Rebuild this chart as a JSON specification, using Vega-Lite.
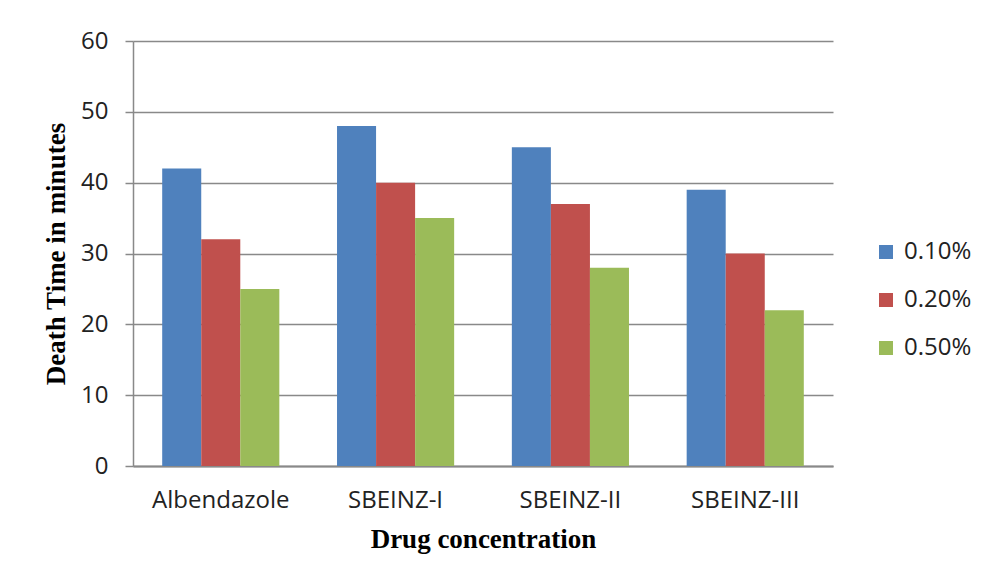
{
  "$schema": "https://vega.github.io/schema/vega-lite/v6.json",
  "autosize": {"type": "none"},
  "padding": {"left": 133, "top": 41, "right": 149, "bottom": 116},
  "width": 700,
  "height": 425,
  "background": "white",
  "config": {
    "view": {"stroke": null},
    "font": "Open Sans"
  },
  "data": {
    "values": [
      {"drug": "Albendazole", "conc": "0.10%", "time": 42},
      {"drug": "Albendazole", "conc": "0.20%", "time": 32},
      {"drug": "Albendazole", "conc": "0.50%", "time": 25},
      {"drug": "SBEINZ-I", "conc": "0.10%", "time": 48},
      {"drug": "SBEINZ-I", "conc": "0.20%", "time": 40},
      {"drug": "SBEINZ-I", "conc": "0.50%", "time": 35},
      {"drug": "SBEINZ-II", "conc": "0.10%", "time": 45},
      {"drug": "SBEINZ-II", "conc": "0.20%", "time": 37},
      {"drug": "SBEINZ-II", "conc": "0.50%", "time": 28},
      {"drug": "SBEINZ-III", "conc": "0.10%", "time": 39},
      {"drug": "SBEINZ-III", "conc": "0.20%", "time": 30},
      {"drug": "SBEINZ-III", "conc": "0.50%", "time": 22}
    ]
  },
  "mark": {"type": "bar"},
  "encoding": {
    "x": {
      "field": "drug",
      "type": "nominal",
      "sort": null,
      "scale": {"paddingInner": 0.33, "paddingOuter": 0.167},
      "axis": {
        "title": "Drug concentration",
        "titleFont": "Liberation Serif",
        "titleFontWeight": "bold",
        "titleFontSize": 27,
        "titleColor": "black",
        "titlePadding": 14,
        "labelAngle": 0,
        "labelFontSize": 24,
        "labelColor": "#222222",
        "labelPadding": 22,
        "ticks": false,
        "domainColor": "#898989",
        "domainWidth": 2
      }
    },
    "xOffset": {"field": "conc", "type": "nominal", "scale": {"paddingInner": 0, "paddingOuter": 0}},
    "y": {
      "field": "time",
      "type": "quantitative",
      "scale": {"domain": [0, 60]},
      "axis": {
        "title": "Death Time in minutes",
        "titleFont": "Liberation Serif",
        "titleFontWeight": "bold",
        "titleFontSize": 27,
        "titleColor": "black",
        "titlePadding": 10,
        "values": [0, 10, 20, 30, 40, 50, 60],
        "labelFontSize": 24,
        "labelColor": "#222222",
        "labelPadding": 17,
        "tickSize": 8,
        "tickColor": "#898989",
        "tickWidth": 1.5,
        "domainColor": "#898989",
        "domainWidth": 1.5,
        "gridColor": "#898989",
        "gridWidth": 1.5
      }
    },
    "color": {
      "field": "conc",
      "type": "nominal",
      "scale": {"domain": ["0.10%", "0.20%", "0.50%"], "range": ["#4F81BD", "#C0504D", "#9BBB59"]},
      "legend": {
        "title": null,
        "orient": "none",
        "legendX": 741,
        "legendY": 199,
        "symbolType": "square",
        "symbolSize": 196,
        "symbolStrokeWidth": 0,
        "labelFontSize": 24,
        "labelColor": "#222222",
        "labelOffset": 6,
        "rowPadding": 24
      }
    }
  }
}
